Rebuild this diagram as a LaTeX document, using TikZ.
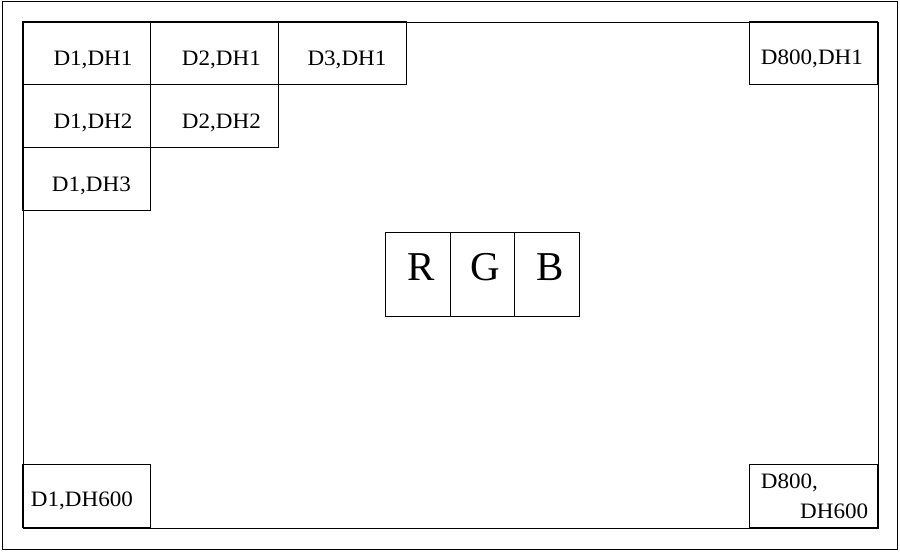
\documentclass[tikz,border=0pt]{standalone}
\usepackage{fontspec}
\setmainfont{Liberation Serif}
\newfontfamily\cellfont[FakeStretch=1.05]{Liberation Serif}
\begin{document}
\begin{tikzpicture}[x=1pt,y=-1pt,
  frame/.style={draw=black,line width=1.2pt},
  cell/.style={draw=black,line width=1pt,minimum width=128pt,minimum height=63pt,anchor=north west,inner sep=0pt,outer sep=0pt},
  rgbcell/.style={draw=black,line width=1pt,minimum width=64.5pt,minimum height=84pt,anchor=north west,inner sep=0pt,outer sep=0pt},
  lbl/.style={anchor=base west,inner sep=0pt,font=\cellfont\fontsize{22}{22}\selectfont},
  big/.style={anchor=base west,inner sep=0pt,font=\fontsize{41}{41}\selectfont}]
\useasboundingbox (0,0) rectangle (900,552);
\node[frame,minimum width=895pt,minimum height=548pt,anchor=north west,inner sep=0pt] (outer) at (2,1) {};
\node[draw=black,line width=1pt,minimum width=855pt,minimum height=506pt,anchor=north west,inner sep=0pt] (inner) at (22.5,21.5) {};
% cells
\node[cell] (c11) at (22.5,21.5) {};
\node[cell] (c21) at (150.5,21.5) {};
\node[cell] (c31) at (278.5,21.5) {};
\node[cell] (c12) at (22.5,84.5) {};
\node[cell] (c22) at (150.5,84.5) {};
\node[cell] (c13) at (22.5,147.5) {};
\node[cell] (c8001) at (749.5,21.5) {};
\node[cell] (c1600) at (22.5,464.5) {};
\node[cell] (c800600) at (749.5,464.5) {};
% labels
\node[lbl] (t11) at (53.3,65.3) {D1,DH1};
\node[lbl] (t21) at (181.7,65.3) {D2,DH1};
\node[lbl] (t31) at (307.3,65.3) {D3,DH1};
\node[lbl] (t8001) at (760.7,64.3) {D800,DH1};
\node[lbl] (t12) at (53.3,128.3) {D1,DH2};
\node[lbl] (t22) at (181.7,128.3) {D2,DH2};
\node[lbl] (t13) at (51.7,191.7) {D1,DH3};
\node[lbl] (t1600) at (30.7,506.7) {D1,DH600};
\node[lbl] (t800a) at (760.7,488.3) {D800,};
\node[lbl] (t800b) at (800,518.3) {DH600};
% RGB
\node[rgbcell] (r) at (385.5,232.5) {};
\node[rgbcell] (g) at (450,232.5) {};
\node[rgbcell] (b) at (514.5,232.5) {};
\node[big] (tr) at (407.5,280) {R};
\node[big] (tg) at (470.5,280) {G};
\node[big] (tb) at (536,280) {B};
\end{tikzpicture}
\end{document}
